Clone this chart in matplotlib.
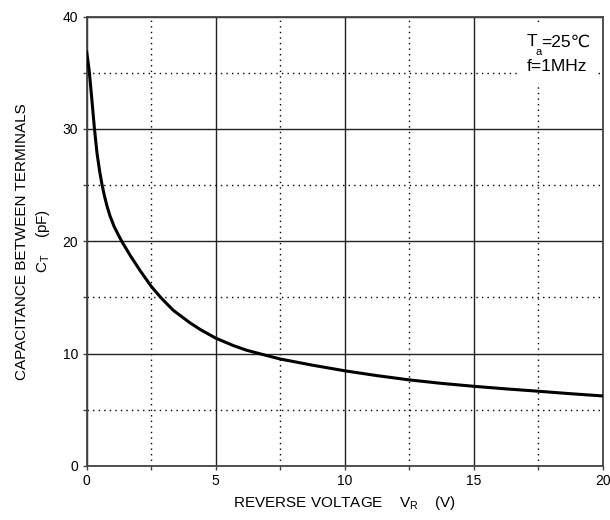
import matplotlib
matplotlib.use('Agg')
import matplotlib.pyplot as plt
from matplotlib.patches import Rectangle

plt.rcParams['font.family'] = ['Liberation Sans', 'DejaVu Sans']

# capacitance vs reverse voltage
vr = [0, 0.1, 0.2, 0.3, 0.4, 0.5, 0.6, 0.7, 0.8, 0.9, 1.06, 1.2, 1.36, 1.7, 2.07,
      2.5, 2.87, 3.36, 4.0, 4.4, 5.0, 5.68, 6.2, 6.69, 7.5, 8.75, 10, 11.25,
      12.5, 13.75, 15, 16.25, 17.5, 18.75, 20]
ct = [36.9, 35.2, 32.7, 30.1, 27.9, 26.3, 25.0, 23.95, 23.05, 22.3, 21.35, 20.7, 20.0,
      18.7, 17.4, 16.0, 15.0, 13.85, 12.75, 12.15, 11.38, 10.72, 10.3, 10.0, 9.52,
      8.97, 8.47, 8.04, 7.66, 7.35, 7.09, 6.86, 6.65, 6.43, 6.23]

x_major = [0, 5, 10, 15, 20]
x_minor = [2.5, 7.5, 12.5, 17.5]
y_major = [0, 10, 20, 30, 40]
y_minor = [5, 15, 25, 35]

fig = plt.figure(figsize=(6.1, 5.2), dpi=100)
ax = fig.add_axes([0.142, 0.104, 0.846, 0.864])

ax.set_xlim(0, 20)
ax.set_ylim(0, 40)
ax.set_xticks(x_major)
ax.set_xticks(x_minor, minor=True)
ax.set_yticks(y_major)
ax.set_yticks(y_minor, minor=True)

# grid: solid majors, dotted minors
ax.grid(which='major', color='#222222', linestyle='-', linewidth=1.0)
ax.grid(which='minor', color='black', linestyle=(0, (1, 3)), linewidth=1.0)
ax.set_axisbelow(True)

ax.plot(vr, ct, color='black', linewidth=2.2, solid_capstyle='round',
        solid_joinstyle='round', zorder=3)

for s in ax.spines.values():
    s.set_color('#444444')
    s.set_linewidth(1.3)

ax.tick_params(which='both', direction='out', length=3, width=1, color='#444444',
               labelsize=10, pad=3)

# condition box, top right
ax.add_patch(Rectangle((0.836, 0.852), 0.155, 0.136, transform=ax.transAxes,
                       facecolor='white', edgecolor='none', zorder=2.5))
fs = 12.5
tT = ax.text(0.853, 0.927, 'T', transform=ax.transAxes, fontsize=fs,
             ha='left', va='bottom', zorder=4)
ta = ax.annotate('a', xy=(1, 0), xycoords=tT, xytext=(-1.5, 2), textcoords='offset points',
                 fontsize=8, ha='left', va='top', zorder=4)
ax.annotate('=25℃', xy=(1, 0), xycoords=(ta, tT), xytext=(-0.5, 0), textcoords='offset points',
            fontsize=fs, ha='left', va='bottom', zorder=4)
ax.text(0.912, 0.872, 'f=1MHz', transform=ax.transAxes, fontsize=fs,
        ha='center', va='bottom', zorder=4)

ax.set_xlabel(r'REVERSE VOLTAGE    V$_\mathregular{R}$    (V)', fontsize=11, labelpad=4)
ax.set_ylabel('CAPACITANCE BETWEEN TERMINALS\n' + r'C$_\mathregular{T}$    (pF)',
              fontsize=11, labelpad=8, linespacing=1.35)

fig.savefig('out.png', dpi=100)
